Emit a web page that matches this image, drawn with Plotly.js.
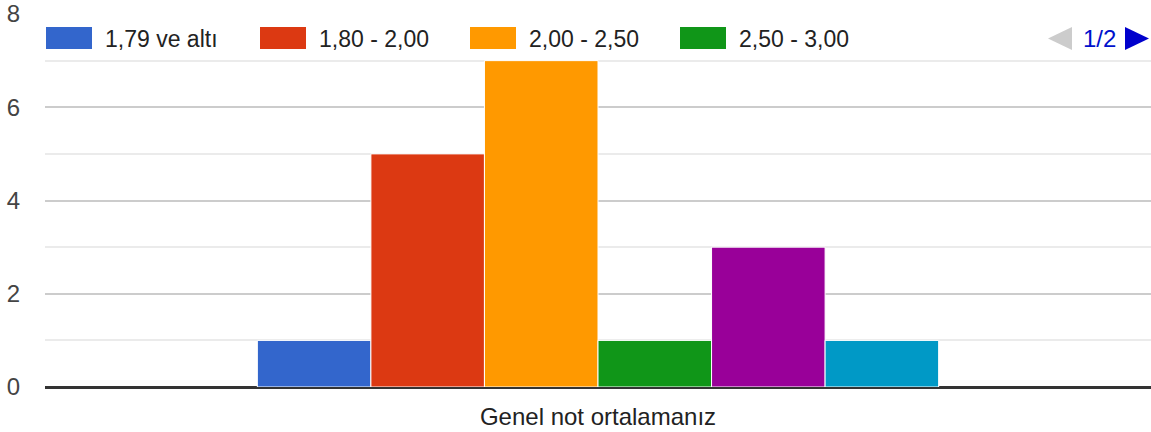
<!DOCTYPE html>
<html>
<head>
<meta charset="utf-8">
<script src="https://cdn.plot.ly/plotly-3.0.1.min.js"></script>
<style>html,body{margin:0;padding:0;background:#fff;}#chart{width:1151px;height:432px;}</style>
</head>
<body>
<div id="chart"></div>
<script>
// ---- data ----
const category = ["Genel not ortalamanız"];
const seriesNames = ["1,79 ve altı", "1,80 - 2,00", "2,00 - 2,50", "2,50 - 3,00", "3,00 - 3,50", "3,50 - 4,00"];
const seriesValues = [1, 5, 7, 1, 3, 1];
const seriesColors = ["#3366cc", "#dc3912", "#ff9900", "#109618", "#990099", "#0099c6"];
const yTickVals = [0, 2, 4, 6, 8];
const legendPageText = "1/2";
const legendVisibleCount = 4;

// ---- layout helpers (pixel -> paper) ----
const W = 1151, H = 432;
const mL = 45, mR = 0, mT = 14, mB = 45;
const plotW = W - mL - mR, plotH = H - mT - mB;
const px = x => (x - mL) / plotW;
const py = y => (H - mB - y) / plotH;
const FONT = "Liberation Sans, Arial, sans-serif";

const traces = seriesNames.map((name, i) => ({
  type: "bar",
  x: category,
  y: [seriesValues[i]],
  name: name,
  marker: {color: seriesColors[i], line: {color: "#ffffff", width: 1}},
  hoverinfo: "none",
  showlegend: false
}));

const shapes = [];
const annotations = [];
const swatchX = [46, 260, 470, 680];
for (let i = 0; i < legendVisibleCount; i++) {
  shapes.push({
    type: "rect", xref: "paper", yref: "paper", layer: "above",
    x0: px(swatchX[i]), x1: px(swatchX[i] + 46),
    y0: py(49), y1: py(27),
    fillcolor: seriesColors[i], line: {width: 0}
  });
  annotations.push({
    xref: "paper", yref: "paper", x: px(swatchX[i] + 57), y: py(38.5),
    xanchor: "left", yanchor: "middle", showarrow: false,
    text: seriesNames[i], font: {family: FONT, size: 23, color: "#222222"}
  });
}
// paging arrows
shapes.push({
  type: "path", xref: "paper", yref: "paper", layer: "above",
  path: `M ${px(1072)} ${py(27)} L ${px(1072)} ${py(50)} L ${px(1048)} ${py(38.5)} Z`,
  fillcolor: "#cccccc", line: {width: 0}
});
shapes.push({
  type: "path", xref: "paper", yref: "paper", layer: "above",
  path: `M ${px(1125)} ${py(27)} L ${px(1125)} ${py(50)} L ${px(1149)} ${py(38.5)} Z`,
  fillcolor: "#0000cc", line: {width: 0}
});
annotations.push({
  xref: "paper", yref: "paper", x: px(1099), y: py(38.5),
  xanchor: "center", yanchor: "middle", showarrow: false,
  text: legendPageText, font: {family: FONT, size: 24, color: "#0011cc"}
});

const layout = {
  width: W, height: H,
  margin: {l: mL, r: mR, t: mT, b: mB, pad: 0},
  paper_bgcolor: "#ffffff", plot_bgcolor: "#ffffff",
  barmode: "group", bargap: 0.384, bargroupgap: 0,
  showlegend: false,
  font: {family: FONT, size: 24, color: "#444444"},
  xaxis: {
    type: "category", showgrid: false, zeroline: false, showline: false,
    ticks: "", tickfont: {family: FONT, size: 24, color: "#222222"},
    ticklabelstandoff: 13, automargin: false, fixedrange: true
  },
  yaxis: {
    range: [0, 8], tickvals: yTickVals, ticktext: yTickVals.map(String),
    showgrid: true, gridcolor: "#cccccc", gridwidth: 2,
    minor: {dtick: 1, showgrid: true, gridcolor: "#ebebeb", gridwidth: 2, ticks: ""},
    zeroline: true, zerolinecolor: "#333333", zerolinewidth: 3,
    showline: false, ticks: "",
    tickfont: {family: FONT, size: 24, color: "#444444"},
    ticklabelstandoff: 24, automargin: false, fixedrange: true
  },
  shapes: shapes,
  annotations: annotations
};

Plotly.newPlot("chart", traces, layout, {displayModeBar: false, staticPlot: true});
</script>
</body>
</html>
